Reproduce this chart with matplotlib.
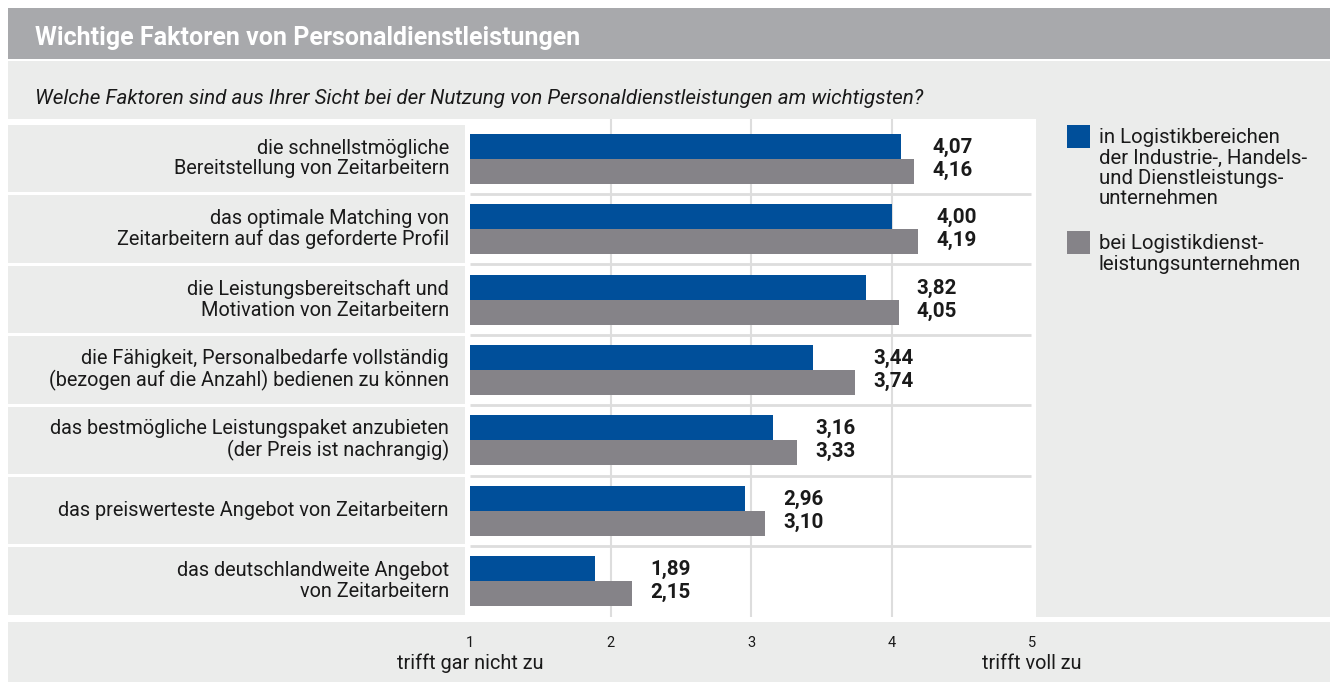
#!/usr/bin/env python3
import matplotlib
matplotlib.use('Agg')
import matplotlib.pyplot as plt
from matplotlib.patches import Rectangle

## Data
categories = ['die schnellstmögliche\nBereitstellung von Zeitarbeitern',
              'das optimale Matching von\nZeitarbeitern auf das geforderte Profil',
              'die Leistungsbereitschaft und\nMotivation von Zeitarbeitern',
              'die Fähigkeit, Personalbedarfe vollständig\n(bezogen auf die Anzahl) bedienen zu können',
              'das bestmögliche Leistungspaket anzubieten\n(der Preis ist nachrangig)',
              'das preiswerteste Angebot von Zeitarbeitern',
              'das deutschlandweite Angebot\nvon Zeitarbeitern']
industrie = [4.07, 4.00, 3.82, 3.44, 3.16, 2.96, 1.89]
logistik = [4.16, 4.19, 4.05, 3.74, 3.33, 3.10, 2.15]
series_names = ['in Logistikbereichen\nder Industrie-, Handels-\nund Dienstleistungs-\nunternehmen',
                'bei Logistikdienst-\nleistungsunternehmen']
tick_values = [1, 2, 3, 4, 5]
scale_labels = ['trifft gar nicht zu', 'trifft voll zu']
title = 'Wichtige Faktoren von Personaldienstleistungen'
question = 'Welche Faktoren sind aus Ihrer Sicht bei der Nutzung von Personaldienstleistungen am wichtigsten?'

## Style
blue = '#004f9a'
grey = '#858388'
panel = '#ebeceb'
title_bar = '#a8a9ac'
line_grey = '#dddddd'
text_col = '#1a1a1a'

plt.rcParams['font.family'] = ['Roboto', 'DejaVu Sans']
fs_label = 14.3
fs_value = 14.8
fs_legend = 14.7
fs_title = 18
fs_question = 14.9
fs_tick = 10.5

W, H = 1330, 682
fig = plt.figure(figsize=(W/100, H/100), dpi=100)

## Background drawn in pixel coordinates
bg = fig.add_axes([0, 0, 1, 1])
bg.set_xlim(0, W)
bg.set_ylim(H, 0)
bg.axis('off')
def box(x0, y0, x1, y1, color):
    bg.add_patch(Rectangle((x0, y0), x1 - x0, y1 - y0, color=color, lw=0))
box(8, 8, W, 59, title_bar)
box(8, 61, W, 119, panel)
box(1036, 119, W, 617, panel)
box(8, 622, W, H, panel)
box(465, 119, 1036, 617, 'white')
bg.text(35, 38, title, color='white', fontsize=fs_title, fontweight='bold',
        va='center', ha='left')
bg.text(35, 99, question, color=text_col, fontsize=fs_question, style='italic',
        va='center', ha='left')

## Main plot
n = len(categories)
row_top, pitch = 123.5, 70.4
ax_top, ax_bottom, ax_left, ax_right = 119, 617, 465, 1036
px_per_unit = 140.5
x_one = 470
ax = fig.add_axes([ax_left/W, 1 - ax_bottom/H, (ax_right - ax_left)/W,
                   (ax_bottom - ax_top)/H])
ax.set_facecolor('none')
ax.set_xlim(1 - (x_one - ax_left)/px_per_unit, 1 + (ax_right - x_one)/px_per_unit)
ax.set_ylim(n - 0.5 + (ax_bottom - row_top - n*pitch)/pitch,
            -0.5 - (row_top - ax_top)/pitch)
for s in ax.spines.values():
    s.set_visible(False)

# label cells on the left
for i in range(n):
    y0 = row_top + i*pitch + 1.5
    box(8, y0, 465, y0 + pitch - 3, panel)

rows = list(range(n))
bh = 25/pitch
ax.vlines([2, 3, 4], *ax.get_ylim(), color=line_grey, lw=1.5, zorder=1)
ax.hlines([r + 0.5 for r in rows[:-1]], 1, 4.99, color=line_grey, lw=2, zorder=1)
ax.barh([r - bh/2 for r in rows], [v - 1 for v in industrie], left=1, height=bh,
        color=blue, zorder=2)
ax.barh([r + bh/2 for r in rows], [v - 1 for v in logistik], left=1, height=bh,
        color=grey, zorder=2)

dy = 11.5/pitch
for r, a, b in zip(rows, industrie, logistik):
    xl = max(a, b) + 0.13
    ax.text(xl, r - dy, f'{a:.2f}'.replace('.', ','), fontsize=fs_value,
            fontweight='bold', color=text_col, va='center', ha='left')
    ax.text(xl, r + dy, f'{b:.2f}'.replace('.', ','), fontsize=fs_value,
            fontweight='bold', color=text_col, va='center', ha='left')
    ax.text(1 - 21/px_per_unit, r, categories[r], fontsize=fs_label,
            color=text_col, va='center', ha='right', linespacing=1.1,
            clip_on=False)

ax.set_yticks([])
ax.set_xticks(tick_values)
ax.set_xticklabels([str(t) for t in tick_values], fontsize=fs_tick, color=text_col)
ax.tick_params(axis='x', length=0, pad=14)
for xv, lab in zip([tick_values[0], tick_values[-1]], scale_labels):
    ax.text(xv, n - 0.5 + 47/pitch, lab, fontsize=fs_label, color=text_col,
            ha='center', va='center', clip_on=False)

## Legend
for (y0, c, name) in [(125, blue, series_names[0]), (231, grey, series_names[1])]:
    box(1067, y0, 1090, y0 + 23, c)
    bg.text(1099, y0 + 3, name, fontsize=fs_legend, color=text_col,
            va='top', ha='left', linespacing=1.1)

fig.savefig('out.png', dpi=100)
